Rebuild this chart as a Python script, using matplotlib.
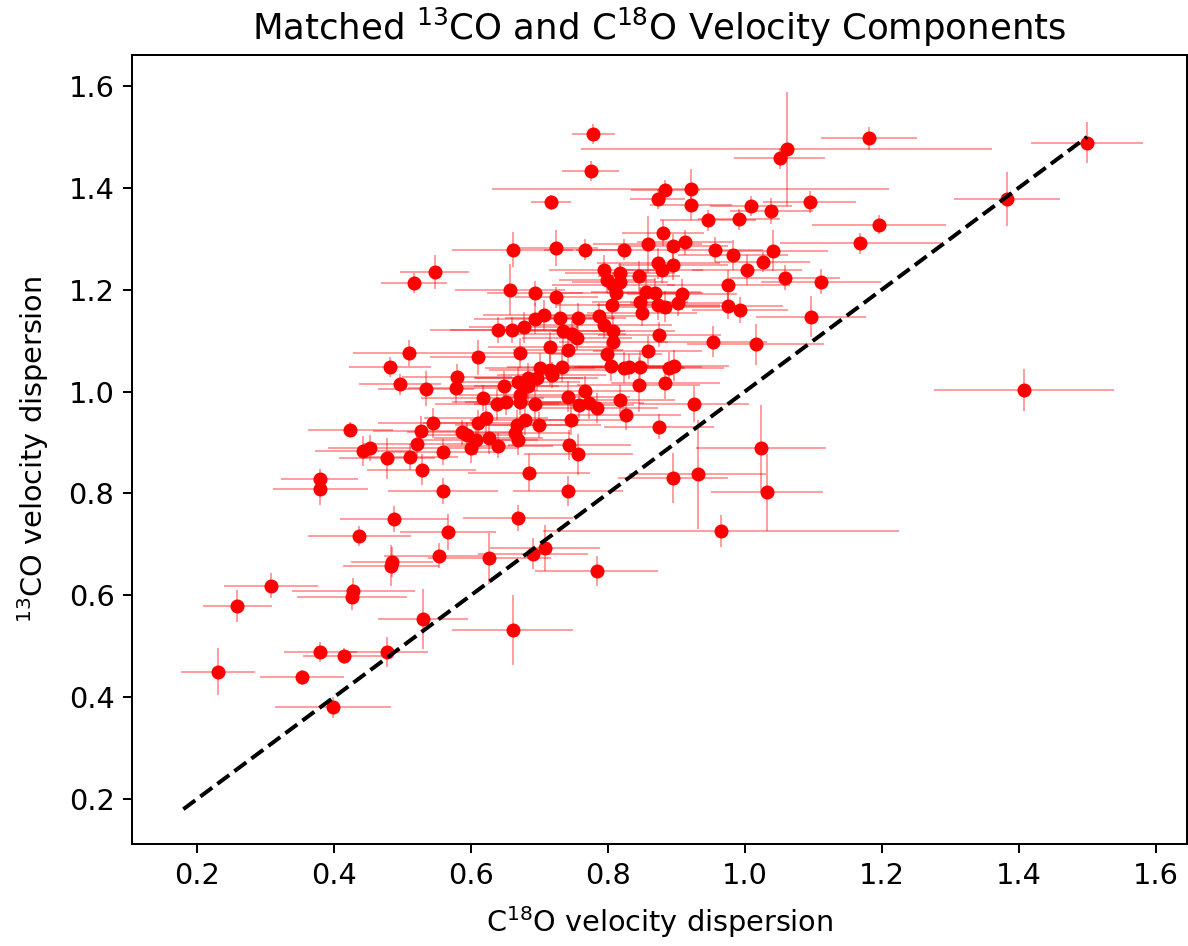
import matplotlib
matplotlib.use("Agg")
import matplotlib.pyplot as plt

# C18O velocity dispersion (x) and 13CO velocity dispersion (y) with errors
c18o = [0.779, 0.775, 0.717, 0.661, 0.725, 0.767, 0.823, 0.858, 0.881, 0.873,
        0.884, 0.547, 0.517, 0.657, 0.694, 0.725, 0.794, 0.799, 0.808, 0.818,
        0.818, 0.812, 0.846, 0.856, 0.869, 0.874, 0.879, 0.806, 0.847, 0.850,
        0.874, 0.707, 0.730, 0.756, 0.787, 1.182, 1.061, 1.051, 0.921, 0.922,
        1.009, 1.039, 1.095, 0.946, 0.992, 1.196, 1.169, 0.895, 0.912, 0.956,
        0.983, 1.041, 1.026, 1.003, 0.895, 1.059, 1.111, 0.976, 0.908, 0.884,
        0.903, 0.976, 0.993, 1.097, 1.500, 1.383, 0.482, 0.497, 0.424, 0.443,
        0.452, 0.478, 0.379, 0.380, 0.488, 0.437, 0.483, 0.485, 0.308, 0.428,
        0.640, 0.660, 0.677, 0.694, 0.735, 0.747, 0.755, 0.794, 0.808, 0.808,
        0.875, 0.510, 0.611, 0.671, 0.715, 0.742, 0.799, 0.804, 0.858, 0.823,
        0.831, 0.847, 0.875, 0.845, 0.884, 0.535, 0.580, 0.578, 0.617, 0.649,
        0.638, 0.652, 0.669, 0.684, 0.696, 0.684, 0.672, 0.672, 0.694, 0.701,
        0.716, 0.718, 0.733, 0.742, 0.767, 0.758, 0.773, 0.784, 0.818, 0.827,
        0.746, 0.700, 0.679, 0.667, 0.669, 0.665, 0.622, 0.610, 0.626, 0.608,
        0.600, 0.640, 0.587, 0.594, 0.544, 0.527, 0.522, 0.511, 0.559, 0.528,
        0.744, 0.757, 0.685, 0.559, 0.742, 0.669, 0.566, 0.553, 0.627, 0.691,
        0.708, 0.784, 0.953, 1.016, 0.890, 0.897, 0.926, 1.024, 0.895, 0.931,
        1.032, 0.966, 1.408, 0.259, 0.426, 0.231, 0.380, 0.415, 0.478, 0.353,
        0.399, 0.530, 0.661]
co13 = [1.506, 1.433, 1.372, 1.279, 1.282, 1.279, 1.279, 1.289, 1.311, 1.378,
        1.396, 1.235, 1.213, 1.200, 1.193, 1.185, 1.239, 1.219, 1.209, 1.233,
        1.216, 1.193, 1.227, 1.196, 1.193, 1.252, 1.239, 1.170, 1.176, 1.154,
        1.170, 1.150, 1.144, 1.144, 1.149, 1.497, 1.476, 1.458, 1.397, 1.366,
        1.364, 1.355, 1.372, 1.336, 1.338, 1.328, 1.291, 1.285, 1.293, 1.279,
        1.268, 1.277, 1.254, 1.239, 1.249, 1.224, 1.216, 1.209, 1.191, 1.167,
        1.173, 1.168, 1.160, 1.147, 1.489, 1.378, 1.048, 1.014, 0.925, 0.883,
        0.889, 0.869, 0.828, 0.808, 0.750, 0.716, 0.658, 0.665, 0.619, 0.608,
        1.121, 1.121, 1.126, 1.143, 1.119, 1.114, 1.106, 1.131, 1.119, 1.097,
        1.112, 1.076, 1.067, 1.076, 1.087, 1.082, 1.073, 1.050, 1.080, 1.047,
        1.049, 1.049, 0.931, 1.013, 1.016, 1.006, 1.029, 1.008, 0.987, 1.011,
        0.975, 0.980, 1.019, 1.026, 1.026, 1.010, 0.993, 0.980, 0.975, 1.046,
        1.042, 1.033, 1.049, 0.990, 1.001, 0.974, 0.977, 0.968, 0.983, 0.954,
        0.944, 0.934, 0.944, 0.934, 0.905, 0.918, 0.948, 0.938, 0.908, 0.905,
        0.889, 0.894, 0.920, 0.915, 0.938, 0.923, 0.898, 0.872, 0.881, 0.847,
        0.895, 0.877, 0.841, 0.805, 0.805, 0.752, 0.724, 0.678, 0.673, 0.682,
        0.693, 0.648, 1.098, 1.093, 1.047, 1.051, 0.975, 0.889, 0.830, 0.838,
        0.802, 0.726, 1.003, 0.579, 0.597, 0.450, 0.489, 0.481, 0.489, 0.439,
        0.380, 0.553, 0.532]
c18o_err = [0.031, 0.042, 0.029, 0.088, 0.060, 0.060, 0.070, 0.080, 0.060, 0.040,
            0.050, 0.050, 0.048, 0.080, 0.070, 0.060, 0.080, 0.070, 0.090, 0.080,
            0.070, 0.090, 0.060, 0.080, 0.070, 0.090, 0.060, 0.080, 0.070, 0.080,
            0.090, 0.090, 0.080, 0.070, 0.070, 0.070, 0.300, 0.066, 0.290, 0.060,
            0.060, 0.060, 0.068, 0.070, 0.060, 0.098, 0.117, 0.080, 0.070, 0.070,
            0.080, 0.080, 0.070, 0.080, 0.080, 0.080, 0.088, 0.090, 0.080, 0.080,
            0.070, 0.080, 0.070, 0.080, 0.082, 0.078, 0.060, 0.060, 0.062, 0.070,
            0.060, 0.070, 0.056, 0.069, 0.079, 0.075, 0.070, 0.060, 0.068, 0.090,
            0.100, 0.090, 0.080, 0.090, 0.090, 0.080, 0.080, 0.100, 0.090, 0.080,
            0.090, 0.082, 0.070, 0.080, 0.090, 0.080, 0.080, 0.090, 0.080, 0.090,
            0.080, 0.090, 0.080, 0.090, 0.080, 0.070, 0.080, 0.070, 0.090, 0.080,
            0.090, 0.080, 0.090, 0.080, 0.090, 0.080, 0.090, 0.080, 0.090, 0.080,
            0.090, 0.080, 0.080, 0.090, 0.080, 0.080, 0.080, 0.090, 0.080, 0.080,
            0.080, 0.090, 0.080, 0.090, 0.080, 0.080, 0.090, 0.080, 0.080, 0.090,
            0.070, 0.080, 0.080, 0.070, 0.080, 0.070, 0.080, 0.070, 0.080, 0.080,
            0.090, 0.080, 0.089, 0.080, 0.080, 0.080, 0.070, 0.080, 0.090, 0.080,
            0.080, 0.090, 0.080, 0.100, 0.080, 0.080, 0.080, 0.095, 0.080, 0.100,
            0.082, 0.260, 0.132, 0.051, 0.080, 0.054, 0.053, 0.060, 0.060, 0.061,
            0.085, 0.066, 0.088]
co13_err = [0.019, 0.020, 0.015, 0.035, 0.035, 0.020, 0.020, 0.056, 0.025, 0.020,
            0.020, 0.034, 0.020, 0.050, 0.025, 0.020, 0.030, 0.025, 0.025, 0.020,
            0.030, 0.025, 0.030, 0.040, 0.030, 0.030, 0.025, 0.030, 0.030, 0.025,
            0.030, 0.030, 0.030, 0.030, 0.025, 0.022, 0.112, 0.020, 0.040, 0.030,
            0.020, 0.026, 0.022, 0.020, 0.020, 0.019, 0.020, 0.025, 0.025, 0.025,
            0.030, 0.040, 0.020, 0.030, 0.030, 0.025, 0.025, 0.030, 0.030, 0.030,
            0.025, 0.025, 0.025, 0.040, 0.040, 0.053, 0.020, 0.020, 0.015, 0.030,
            0.025, 0.040, 0.020, 0.030, 0.025, 0.020, 0.040, 0.030, 0.025, 0.025,
            0.025, 0.025, 0.030, 0.030, 0.030, 0.025, 0.025, 0.025, 0.030, 0.030,
            0.025, 0.025, 0.034, 0.030, 0.030, 0.025, 0.025, 0.030, 0.030, 0.030,
            0.025, 0.030, 0.025, 0.054, 0.030, 0.034, 0.025, 0.030, 0.025, 0.030,
            0.030, 0.025, 0.030, 0.030, 0.025, 0.030, 0.030, 0.025, 0.030, 0.030,
            0.030, 0.025, 0.030, 0.030, 0.030, 0.025, 0.030, 0.030, 0.030, 0.030,
            0.030, 0.025, 0.030, 0.030, 0.030, 0.025, 0.030, 0.025, 0.030, 0.030,
            0.030, 0.025, 0.025, 0.025, 0.030, 0.030, 0.025, 0.025, 0.025, 0.030,
            0.030, 0.040, 0.037, 0.025, 0.030, 0.025, 0.035, 0.025, 0.050, 0.030,
            0.045, 0.030, 0.030, 0.040, 0.030, 0.030, 0.035, 0.085, 0.049, 0.107,
            0.075, 0.031, 0.041, 0.031, 0.025, 0.046, 0.020, 0.015, 0.030, 0.015,
            0.020, 0.059, 0.069]

# one-to-one reference line
line_vals = [0.18, 1.5]

fig = plt.figure(figsize=(6.6, 946 / 180), dpi=180)
ax = fig.add_axes([0.1111, 0.1078, 0.8881, 0.8341])

ax.errorbar(c18o, co13, xerr=c18o_err, yerr=co13_err, fmt='o', color='red',
            ms=4.6, ecolor=(1, 0, 0, 0.5), elinewidth=0.6, capsize=0, zorder=2)
ax.plot(line_vals, line_vals, 'k--', lw=1.6, zorder=3)

ax.set_xlim(0.105, 1.646)
ax.set_ylim(0.1116, 1.661)
ax.set_xticks([0.2, 0.4, 0.6, 0.8, 1.0, 1.2, 1.4, 1.6])
ax.set_yticks([0.2, 0.4, 0.6, 0.8, 1.0, 1.2, 1.4, 1.6])
ax.tick_params(labelsize=11.5)

ax.set_title(r'Matched $^{13}$CO and C$^{18}$O Velocity Components', fontsize=14.2)
ax.set_xlabel(r'C$^{18}$O velocity dispersion', fontsize=11.5, labelpad=6)
ax.set_ylabel(r'$^{13}$CO velocity dispersion', fontsize=11.5, labelpad=7)

fig.savefig('out.png', dpi=180)
